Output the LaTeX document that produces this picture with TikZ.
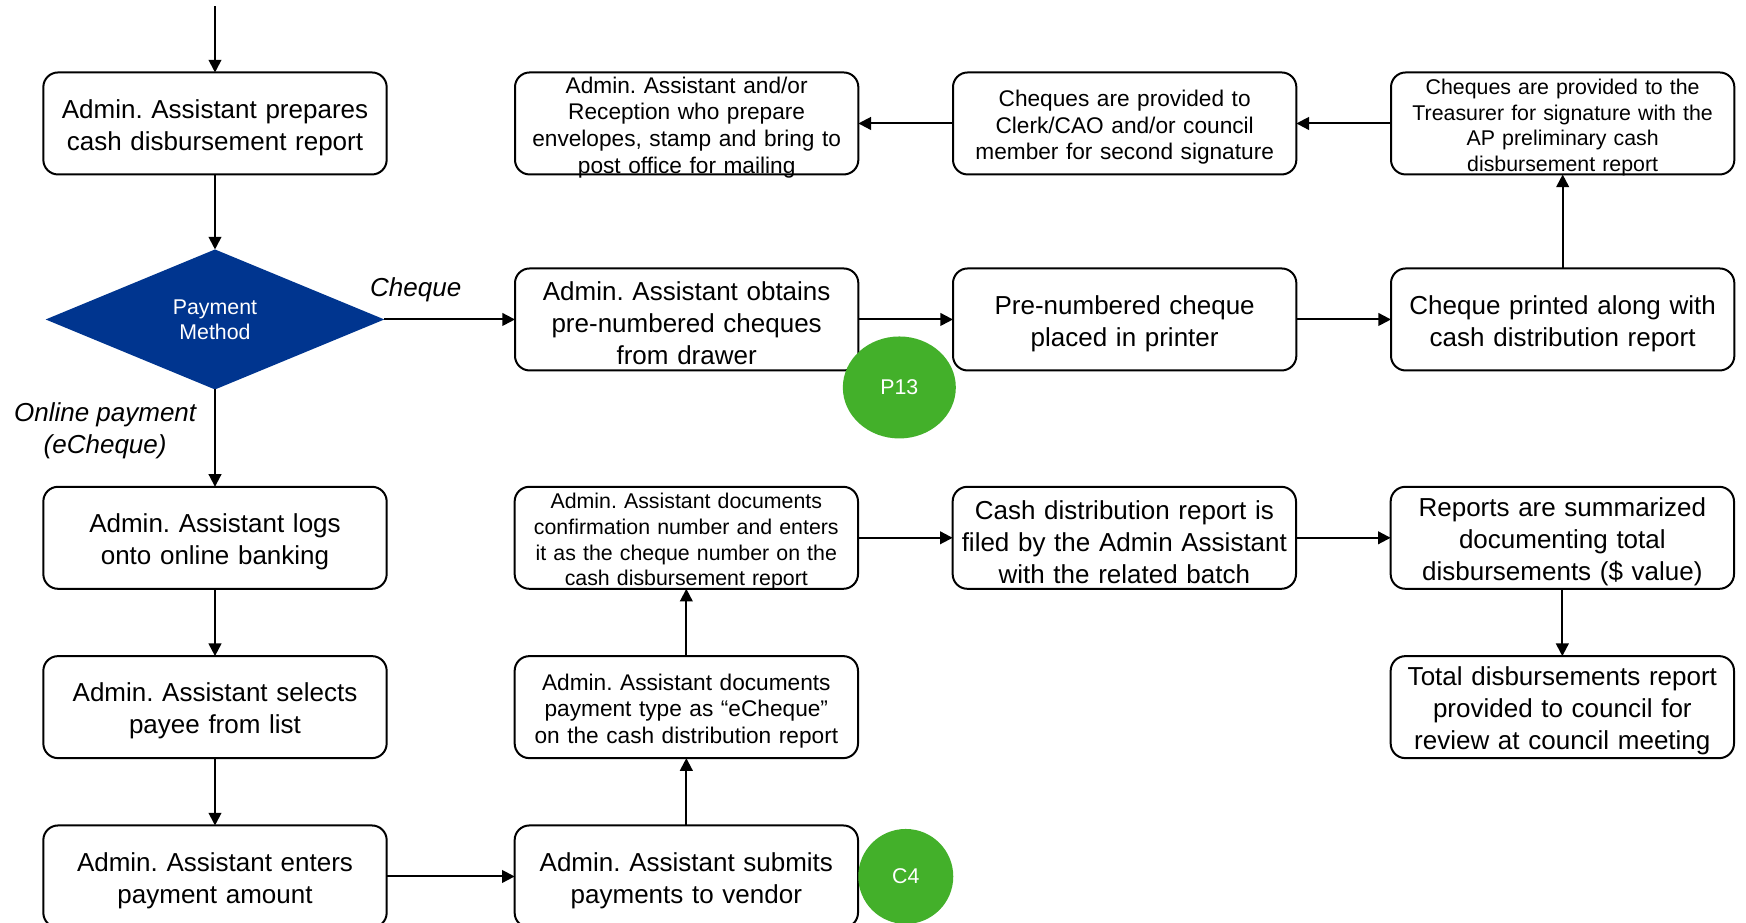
\documentclass[tikz,border=0pt]{standalone}
\usepackage{fontspec}
\setmainfont{Liberation Sans}
\usetikzlibrary{shapes.geometric, arrows.meta, positioning}
\definecolor{paynavy}{HTML}{00358F}
\definecolor{ctrlgreen}{HTML}{43B02A}
\frenchspacing
\newcommand{\boxtail}{\endgraf\kern-6pt}

\begin{document}
\begin{tikzpicture}[
    node distance=50.5pt and 71pt,
    box/.style={rectangle, draw=black, line width=1.5pt, outer sep=0pt, rounded corners=11pt, minimum width=257.5pt, minimum height=76.5pt, text width=250pt, inner sep=0pt, align=center, font=\fontsize{19.5pt}{24pt}\selectfont, execute at end node=\boxtail},
    smallbox/.style={box, font=\fontsize{17pt}{20pt}\selectfont},
    tinybox/.style={box, font=\fontsize{16pt}{19.2pt}\selectfont},
    decision/.style={diamond, fill=paynavy, text=white, outer sep=0pt, minimum width=254pt, minimum height=105pt, inner sep=0pt, align=center, font=\fontsize{16pt}{19pt}\selectfont},
    tag/.style={ellipse, fill=ctrlgreen, text=white, inner sep=0pt, font=\fontsize{16pt}{19pt}\selectfont},
    arrow/.style={-{Triangle[length=9.5pt, width=9.5pt]}, line width=1.5pt, black},
    branch/.style={font=\fontsize{19.5pt}{24pt}\selectfont\itshape, align=center},
]
    \useasboundingbox (0,0) rectangle (1309.5pt,-692.25pt);

    % left column
    \node[box] (prep) at (161.25pt,-92.6pt) {Admin. Assistant prepares\\cash disbursement report};
    \coordinate[above=49.5pt of prep] (in);
    \node[decision, below=56.25pt of prep] (pay) {Payment\\Method};
    \node[box, below=73pt of pay] (logs) {Admin. Assistant logs\\onto online banking};
    \node[box, below=of logs] (payee) {Admin. Assistant selects\\payee from list};
    \node[box, below=of payee] (amount) {Admin. Assistant enters\\payment amount};

    % cheque branch
    \node[box, right=98pt of pay] (obtain) {Admin. Assistant obtains\\pre-numbered cheques\\from drawer};
    \node[box, right=of obtain] (printer) {Pre-numbered cheque\\placed in printer};
    \node[box, right=of printer] (printed) {Cheque printed along with\\cash distribution report};
    \node[tinybox, above=70.5pt of printed] (treas) {Cheques are provided to the\\Treasurer for signature with the\\AP preliminary cash\\disbursement report};
    \node[smallbox, above=70.5pt of printer] (clerk) {Cheques are provided to\\Clerk/CAO and/or council\\member for second signature};
    \node[smallbox, above=70.5pt of obtain] (mail) {Admin. Assistant and/or\\Reception who prepare\\envelopes, stamp and bring to\\post office for mailing};

    % eCheque branch
    \node[box, right=96pt of amount] (submit) {Admin. Assistant submits\\payments to vendor};
    \node[smallbox, above=of submit] (ptype) {Admin. Assistant documents\\payment type as ``eCheque''\\on the cash distribution report};
    \node[tinybox, above=of ptype] (confirm) {Admin. Assistant documents\\confirmation number and enters\\it as the cheque number on the\\cash disbursement report};
    \node[box, right=of confirm] (filed) {Cash distribution report is\\filed by the Admin Assistant\\with the related batch};
    \node[box, right=of filed] (summ) {Reports are summarized\\documenting total\\disbursements (\$ value)};
    \node[box, below=of summ] (council) {Total disbursements report\\provided to council for\\review at council meeting};

    % control tags
    \node[tag, minimum width=84.75pt, minimum height=76.5pt] (p13) at ([xshift=30.75pt, yshift=-12.75pt]obtain.south east) {P13};
    \node[tag, minimum width=71.25pt, minimum height=71.25pt, right=0pt of submit] (c4) {C4};

    \draw[arrow] (in) -- (prep);
    \draw[arrow] (prep) -- (pay);
    \draw[arrow] (pay) -- node[pos=0.24, above=9pt, branch] {Cheque} (obtain);
    \draw[arrow] (pay) -- node[pos=0.42, left=10pt, branch] {Online payment\\(eCheque)} (logs);

    \draw[arrow] (obtain) -- (printer);
    \draw[arrow] (printer) -- (printed);
    \draw[arrow] (printed) -- (treas);
    \draw[arrow] (treas) -- (clerk);
    \draw[arrow] (clerk) -- (mail);

    \draw[arrow] (logs) -- (payee);
    \draw[arrow] (payee) -- (amount);
    \draw[arrow] (amount) -- (submit);
    \draw[arrow] (submit) -- (ptype);
    \draw[arrow] (ptype) -- (confirm);
    \draw[arrow] (confirm) -- (filed);
    \draw[arrow] (filed) -- (summ);
    \draw[arrow] (summ) -- (council);
\end{tikzpicture}
\end{document}
